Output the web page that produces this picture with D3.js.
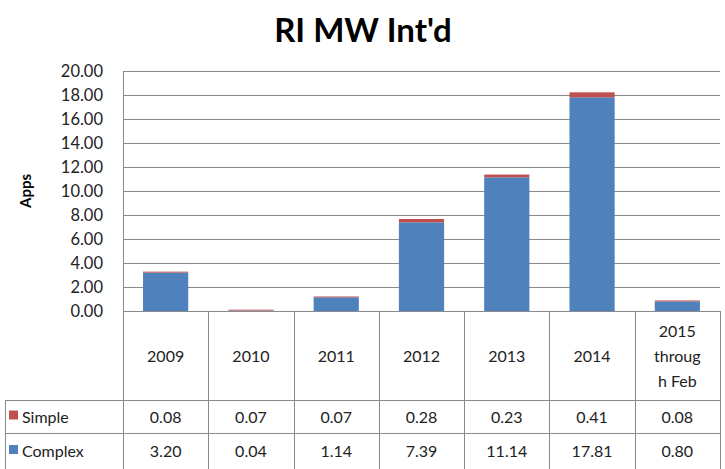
<!DOCTYPE html>
<html>
<head>
<meta charset="utf-8">
<script src="https://cdn.jsdelivr.net/npm/d3@7"></script>
<style>
  body { margin: 0; background: #fff; }
  svg { display: block; font-family: Lato, "Open Sans", sans-serif; }
</style>
</head>
<body>
<div id="chart"></div>
<script>
// chart data
const categories = ["2009", "2010", "2011", "2012", "2013", "2014", "2015 through Feb"];
const simple = [0.08, 0.07, 0.07, 0.28, 0.23, 0.41, 0.08];
const complex = [3.20, 0.04, 1.14, 7.39, 11.14, 17.81, 0.80];
const yTicks = [0, 2, 4, 6, 8, 10, 12, 14, 16, 18, 20];
// Excel wrapped the last header cell like this
const catLines = {"2015 through Feb": ["2015", "throug", "h Feb"]};

const W = 725, H = 469;
const plot = {left: 123, right: 720, top: 71, bottom: 311};
const tableLeft = 5, row1 = 400, row2 = 433, tableBottom = 469;

const svg = d3.select("#chart").append("svg")
  .attr("width", W).attr("height", H);

const x = d3.scaleBand().domain(categories).range([plot.left, plot.right]).padding(0);
const y = d3.scaleLinear().domain([0, 20]).range([plot.bottom, plot.top]);

// title
svg.append("text")
  .attr("x", 363).attr("y", 42)
  .attr("text-anchor", "middle")
  .style("font-size", "33px").style("font-weight", "bold")
  .attr("fill", "#000")
  .text("RI MW Int'd");

// y axis title
svg.append("text")
  .attr("transform", "translate(31,191) rotate(-90)")
  .attr("text-anchor", "middle")
  .style("font-size", "15px").style("font-weight", "bold")
  .text("Apps");

// gridlines
svg.append("g")
  .selectAll("line")
  .data(yTicks)
  .join("line")
  .attr("x1", plot.left).attr("x2", plot.right)
  .attr("y1", d => y(d) + 0.5).attr("y2", d => y(d) + 0.5)
  .attr("stroke", "#8a8a8a").attr("stroke-width", 1);

// y axis labels
const yAxis = svg.append("g")
  .attr("transform", `translate(${plot.left},0)`)
  .call(d3.axisLeft(y).tickValues(yTicks).tickFormat(d3.format(".2f")).tickSize(0).tickPadding(20));
yAxis.select(".domain").attr("stroke", "#8a8a8a");
yAxis.selectAll("text").style("font-size", "16.5px").attr("fill", "#222")
  .style("font-family", "Lato, 'Open Sans', sans-serif");

// stacked bars
const stackData = categories.map((c, i) => ({cat: c, Complex: complex[i], Simple: simple[i]}));
const series = d3.stack().keys(["Complex", "Simple"])(stackData);
const color = d3.scaleOrdinal().domain(["Complex", "Simple"]).range(["#4f81bd", "#c0504d"]);
const barW = x.bandwidth() * 0.53;

svg.append("g")
  .selectAll("g")
  .data(series)
  .join("g")
  .attr("fill", d => color(d.key))
  .selectAll("rect")
  .data(d => d)
  .join("rect")
  .attr("x", d => x(d.data.cat) + (x.bandwidth() - barW) / 2)
  .attr("y", d => y(d[1]))
  .attr("width", barW)
  .attr("height", d => y(d[0]) - y(d[1]));

// data table
const tbl = svg.append("g").attr("stroke", "#8a8a8a").attr("stroke-width", 1);
tbl.append("line").attr("x1", plot.left).attr("x2", plot.right).attr("y1", plot.bottom + 0.5).attr("y2", plot.bottom + 0.5);
[row1, row2].forEach(r => {
  tbl.append("line").attr("x1", tableLeft).attr("x2", plot.right).attr("y1", r + 0.5).attr("y2", r + 0.5);
});
tbl.append("line").attr("x1", tableLeft + 0.5).attr("x2", tableLeft + 0.5).attr("y1", row1).attr("y2", tableBottom);
const edges = categories.map(c => x(c)).concat([plot.right]);
tbl.selectAll(".vl").data(edges).join("line")
  .attr("x1", d => Math.round(d) + 0.5).attr("x2", d => Math.round(d) + 0.5)
  .attr("y1", plot.bottom).attr("y2", tableBottom);

// header cells
const head = svg.append("g").style("font-size", "16px").attr("fill", "#222").attr("text-anchor", "middle");
categories.forEach(c => {
  const lines = catLines[c] || [c];
  const cy = (plot.bottom + row1) / 2 + 6 - (lines.length - 1) * 12.5;
  lines.forEach((l, j) => {
    head.append("text").attr("x", x(c) + x.bandwidth() / 2).attr("y", cy + j * 25).text(l);
  });
});

// value rows
const rows = [
  {name: "Simple", vals: simple, top: row1, bot: row2},
  {name: "Complex", vals: complex, top: row2, bot: tableBottom}
];
rows.forEach(r => {
  const cy = (r.top + r.bot) / 2 + 6;
  svg.append("rect")
    .attr("x", 9).attr("y", cy - 12).attr("width", 9).attr("height", 9)
    .attr("fill", color(r.name));
  svg.append("text").attr("x", 22).attr("y", cy)
    .style("font-size", "16px").attr("fill", "#222").text(r.name);
  svg.append("g").selectAll("text").data(r.vals).join("text")
    .attr("x", (d, i) => x(categories[i]) + x.bandwidth() / 2)
    .attr("y", cy)
    .attr("text-anchor", "middle")
    .style("font-size", "16px").attr("fill", "#222")
    .text(d => d3.format(".2f")(d));
});
</script>
</body>
</html>
